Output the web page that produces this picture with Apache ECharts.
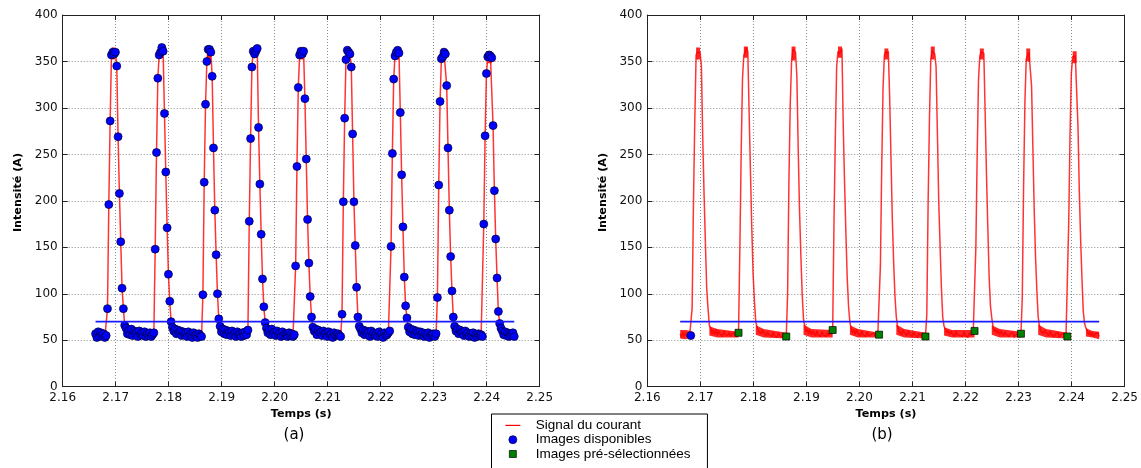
<!DOCTYPE html>
<html>
<head>
<meta charset="utf-8">
<script src="https://cdn.jsdelivr.net/npm/echarts@6/dist/echarts.min.js"></script>
<style>
  html, body { margin: 0; padding: 0; background: #fff; }
  #chart { width: 1141px; height: 468px; }
</style>
</head>
<body>
<div id="chart"></div>
<script>
// ---------------- DATA ----------------
// Uniform sampling of the acquisition (time base of the samples)
const sampleStart = 2.1662;   // s
const samplePeriod = 0.00025; // s

// Current intensity (A) at each sample
const intensite = [
  // before pulse 1
  57, 53, 59, 54, 58, 55, 57, 53, 55,
  // pulse 1
  84, 196, 286, 357, 360, 358, 360, 345, 269, 208, 156, 106, 84, 66,
  63, 57, 61, 56, 62, 55, 60, 57, 59, 54, 60, 56, 58, 55, 59, 54, 57, 55, 58, 54, 56, 58,
  // pulse 2
  148, 252, 332, 357, 360, 365, 361, 294, 231, 171, 121, 92, 70,
  64, 60, 62, 57, 61, 58, 60, 55, 59, 56, 58, 54, 59, 55, 57, 53, 58, 55, 56, 53, 57, 55, 54,
  // pulse 3
  99, 220, 304, 350, 363, 363, 360, 334, 257, 190, 142, 100, 73,
  65, 59, 62, 57, 61, 56, 60, 58, 55, 60, 56, 58, 54, 59, 56, 57, 54, 58, 55, 59, 56, 61,
  // pulse 4
  178, 267, 344, 361, 358, 361, 364, 279, 218, 164, 116, 86, 69,
  63, 58, 61, 56, 62, 57, 59, 55, 60, 56, 58, 54, 59, 55, 57, 56, 54, 58, 55, 57, 54, 56,
  // pulse 5
  130, 237, 322, 357, 361, 358, 361, 310, 245, 180, 133, 97, 75,
  64, 60, 62, 56, 61, 58, 59, 55, 60, 57, 58, 54, 59, 56, 57, 53, 58, 55, 56, 57, 55, 54,
  // pulse 6
  78, 199, 289, 352, 362, 360, 358, 344, 272, 199, 152, 107, 75, 65,
  62, 58, 61, 56, 60, 57, 59, 54, 60, 56, 58, 55, 57, 54, 59, 55, 57, 53, 58, 55, 56, 58, 60,
  // pulse 7
  151, 251, 331, 356, 360, 362, 359, 295, 228, 172, 118, 87, 74,
  64, 59, 62, 57, 61, 56, 60, 58, 55, 59, 56, 58, 54, 57, 55, 58, 53, 56, 55, 57, 54, 57,
  // pulse 8
  96, 217, 307, 353, 355, 360, 358, 324, 257, 190, 140, 103, 75,
  65, 60, 62, 57, 61, 58, 59, 55, 60, 56, 58, 54, 57, 55, 58, 53, 56, 54, 57, 55, 56, 54,
  // pulse 9
  175, 270, 337, 355, 357, 356, 354, 281, 211, 159, 117, 81, 68, 63,
  60, 56, 59, 55, 58, 54, 57, 55, 58, 54
];

// Noise envelope of the current signal on each low plateau (sample indices, upper / lower A)
const plateauIndices = [[0, 4, 8], [22, 28, 44], [57, 63, 80], [93, 99, 115], [128, 134, 150],
  [163, 169, 185], [199, 205, 222], [235, 241, 257], [270, 276, 292], [306, 311, 316]];
const plateauHaut = [[61, 61, 60], [65, 62, 59], [66, 62, 58], [67, 62, 61], [66, 62, 58],
  [67, 62, 58], [64, 61, 61], [66, 62, 59], [67, 62, 58], [63, 60, 59]];
const plateauBas = [[52, 51, 53], [55, 53, 53], [56, 53, 52], [56, 53, 53], [56, 53, 53],
  [56, 53, 52], [55, 53, 53], [56, 53, 53], [56, 53, 52], [54, 53, 51]];

// Noise envelope at the top of each pulse (sample indices, upper / lower A)
const sommetIndices = [[12, 15], [48, 51], [84, 87], [119, 122], [154, 157], [189, 192], [226, 229], [261, 264], [296, 299]];
const sommetHaut = [365, 366, 366, 366, 364, 366, 364, 364, 361];
const sommetBas = [352, 354, 351, 354, 352, 352, 352, 350, 348];

// Sample indices of the images shown in panel (b)
const imagesDisponiblesB = [8];
const imagesPreselectionnees = [44, 80, 115, 150, 185, 222, 257, 292];

// Threshold line
const seuilValeur = 70;
const seuilDebut = 2.1662;
const seuilFin = 2.2452;

// Axes
const xTicksMin = 2.16, xTicksMax = 2.25, xTicksStep = 0.01;
const yTicksMin = 0, yTicksMax = 400, yTicksStep = 50;

// Texts
const labelX = 'Temps (s)';
const labelY = 'Intensité (A)';
const panelLabels = ['(a)', '(b)'];
const nomSignal = 'Signal du courant';
const nomDispo = 'Images disponibles';
const nomPresel = 'Images pré-sélectionnées';

// ---------------- BUILD ----------------
const tOf = i => +(sampleStart + i * samplePeriod).toFixed(6);
const signalPts = intensite.map((v, i) => [tOf(i), v]);
const dispoB = imagesDisponiblesB.map(i => [tOf(i), intensite[i]]);
const preselPts = imagesPreselectionnees.map(i => [tOf(i), intensite[i]]);
const seuilPts = [[seuilDebut, seuilValeur], [seuilFin, seuilValeur]];

// polygons (data space) of the noise envelopes
const noisePolys = [];
plateauIndices.forEach((idx, k) => {
  const top = idx.map((i, j) => [tOf(i), plateauHaut[k][j]]);
  const bot = idx.map((i, j) => [tOf(i), plateauBas[k][j]]).reverse();
  noisePolys.push(top.concat(bot));
});
sommetIndices.forEach((idx, k) => {
  noisePolys.push([[tOf(idx[0]), sommetHaut[k]], [tOf(idx[1]), sommetHaut[k]],
                   [tOf(idx[1]), sommetBas[k]], [tOf(idx[0]), sommetBas[k]]]);
});

const TICK_FONT = 'DejaVu Sans';
const gridDefs = [
  { left: 62.7, top: 15, width: 477, height: 371.7 },
  { left: 647.3, top: 15, width: 477.4, height: 371.7 }
];
const axisLineStyle = { color: '#222', width: 1 };
const splitStyle = { color: '#8c8c8c', width: 1, type: [1, 2] };

const xAxes = [], yAxes = [];
gridDefs.forEach((g, gi) => {
  xAxes.push({
    gridIndex: gi, type: 'value', position: 'bottom',
    min: xTicksMin, max: xTicksMax, interval: xTicksStep,
    axisLine: { show: true, onZero: false, lineStyle: axisLineStyle },
    axisTick: { show: true, inside: true, length: 5, lineStyle: axisLineStyle },
    axisLabel: { show: true, margin: 5, color: '#111', fontFamily: TICK_FONT, fontSize: 12,
      formatter: v => v.toFixed(2) },
    splitLine: { show: true, lineStyle: splitStyle }
  });
  xAxes.push({
    gridIndex: gi, type: 'value', position: 'top',
    min: xTicksMin, max: xTicksMax, interval: xTicksStep,
    axisLine: { show: true, onZero: false, lineStyle: axisLineStyle },
    axisTick: { show: true, inside: true, length: 5, lineStyle: axisLineStyle },
    axisLabel: { show: false }, splitLine: { show: false }
  });
  yAxes.push({
    gridIndex: gi, type: 'value', position: 'left',
    min: yTicksMin, max: yTicksMax, interval: yTicksStep,
    axisLine: { show: true, onZero: false, lineStyle: axisLineStyle },
    axisTick: { show: true, inside: true, length: 5, lineStyle: axisLineStyle },
    axisLabel: { show: true, margin: 5, color: '#111', fontFamily: TICK_FONT, fontSize: 12 },
    splitLine: { show: true, lineStyle: splitStyle }
  });
  yAxes.push({
    gridIndex: gi, type: 'value', position: 'right',
    min: yTicksMin, max: yTicksMax, interval: yTicksStep,
    axisLine: { show: true, onZero: false, lineStyle: axisLineStyle },
    axisTick: { show: true, inside: true, length: 5, lineStyle: axisLineStyle },
    axisLabel: { show: false }, splitLine: { show: false }
  });
});

const RED = 'rgba(255,0,0,0.8)';
const BLUE = '#0000ff';
const SEUIL_BLUE = '#1a1aff';
const GREEN = '#008000';

function signalSeries(ax) {
  return {
    name: nomSignal, type: 'line', xAxisIndex: ax, yAxisIndex: ax,
    data: signalPts, showSymbol: false, symbol: 'none', color: 'red',
    lineStyle: { color: RED, width: 1.5 }, itemStyle: { color: 'red' },
    z: 2, animation: false
  };
}
function noiseSeries(ax) {
  return {
    name: 'bruit', type: 'custom', xAxisIndex: ax, yAxisIndex: ax,
    data: noisePolys.map(p => p[0]), silent: true, z: 2, animation: false, clip: true,
    renderItem: (params, api) => ({
      type: 'polygon',
      shape: { points: noisePolys[params.dataIndex].map(p => api.coord(p)) },
      style: { fill: 'rgba(255,0,0,0.85)' }
    })
  };
}
function seuilSeries(ax) {
  return {
    name: 'seuil', type: 'custom', xAxisIndex: ax, yAxisIndex: ax,
    data: [seuilPts[0]], silent: true, z: 5, animation: false,
    renderItem: (params, api) => {
      const a = api.coord(seuilPts[0]);
      const b = api.coord(seuilPts[1]);
      return {
        type: 'line',
        shape: { x1: a[0], y1: a[1], x2: b[0], y2: b[1] },
        style: { stroke: SEUIL_BLUE, lineWidth: 1.8, fill: null }
      };
    }
  };
}

const series = [
  noiseSeries(0),
  signalSeries(0),
  seuilSeries(0),
  {
    name: nomDispo, type: 'scatter', xAxisIndex: 0, yAxisIndex: 0,
    data: signalPts, symbol: 'circle', symbolSize: 8, color: BLUE,
    itemStyle: { color: BLUE, borderColor: '#000033', borderWidth: 0.7, opacity: 1 },
    z: 4, animation: false
  },
  noiseSeries(2),
  signalSeries(2),
  seuilSeries(2),
  {
    name: nomDispo, type: 'scatter', xAxisIndex: 2, yAxisIndex: 2,
    data: dispoB, symbol: 'circle', symbolSize: 8, color: BLUE,
    itemStyle: { color: BLUE, borderColor: '#000033', borderWidth: 0.7, opacity: 1 },
    z: 6, animation: false
  },
  {
    name: nomPresel, type: 'scatter', xAxisIndex: 2, yAxisIndex: 2,
    data: preselPts, symbol: 'rect', symbolSize: 7, color: GREEN,
    itemStyle: { color: GREEN, borderColor: '#000', borderWidth: 0.7, opacity: 1 },
    z: 6, animation: false
  }
];

const titleFont = { fontFamily: TICK_FONT, fontWeight: 'bold', fontSize: 11.2, fill: '#000' };
const graphics = [];
gridDefs.forEach((g, gi) => {
  graphics.push({
    type: 'text', x: g.left + g.width / 2, y: 414.3, silent: true,
    style: Object.assign({ text: labelX, align: 'center', verticalAlign: 'middle' }, titleFont)
  });
  graphics.push({
    type: 'text', x: g.left - 44.2, y: 192.5, rotation: Math.PI / 2, silent: true,
    style: Object.assign({ text: labelY, align: 'center', verticalAlign: 'middle' }, titleFont)
  });
});
graphics.push({ type: 'text', x: 294, y: 435, silent: true,
  style: { text: panelLabels[0], fontFamily: TICK_FONT, fontSize: 15, fill: '#000', align: 'center', verticalAlign: 'middle' } });
graphics.push({ type: 'text', x: 882, y: 435, silent: true,
  style: { text: panelLabels[1], fontFamily: TICK_FONT, fontSize: 15, fill: '#000', align: 'center', verticalAlign: 'middle' } });

const option = {
  animation: false,
  backgroundColor: '#fff',
  grid: gridDefs,
  xAxis: xAxes,
  yAxis: yAxes,
  series: series,
  graphic: graphics,
  legend: {
    orient: 'vertical', left: 491.5, top: 414, height: 120,
    padding: [4.4, 17, 40, 3],
    backgroundColor: '#fff', borderColor: '#000', borderWidth: 1, borderRadius: 0,
    itemWidth: 36, itemHeight: 8, itemGap: 0.3,
    selectedMode: false,
    textStyle: { fontFamily: 'Liberation Sans', fontSize: 13.5, color: '#000', lineHeight: 14 },
    data: [
      { name: nomSignal, icon: 'path://M0,0M36,8M10.5,3.4H25.5V4.6H10.5Z',
        itemStyle: { color: 'red', borderWidth: 0 } },
      { name: nomDispo, icon: 'circle',
        itemStyle: { color: BLUE, borderColor: '#000033', borderWidth: 0.7 } },
      { name: nomPresel, icon: 'path://M0,0M36,8M14.5,0.5H21.5V7.5H14.5Z',
        itemStyle: { color: GREEN, borderColor: '#000', borderWidth: 0.7 } }
    ]
  }
};

const chart = echarts.init(document.getElementById('chart'), null, { renderer: 'canvas' });
chart.setOption(option);
</script>
</body>
</html>
